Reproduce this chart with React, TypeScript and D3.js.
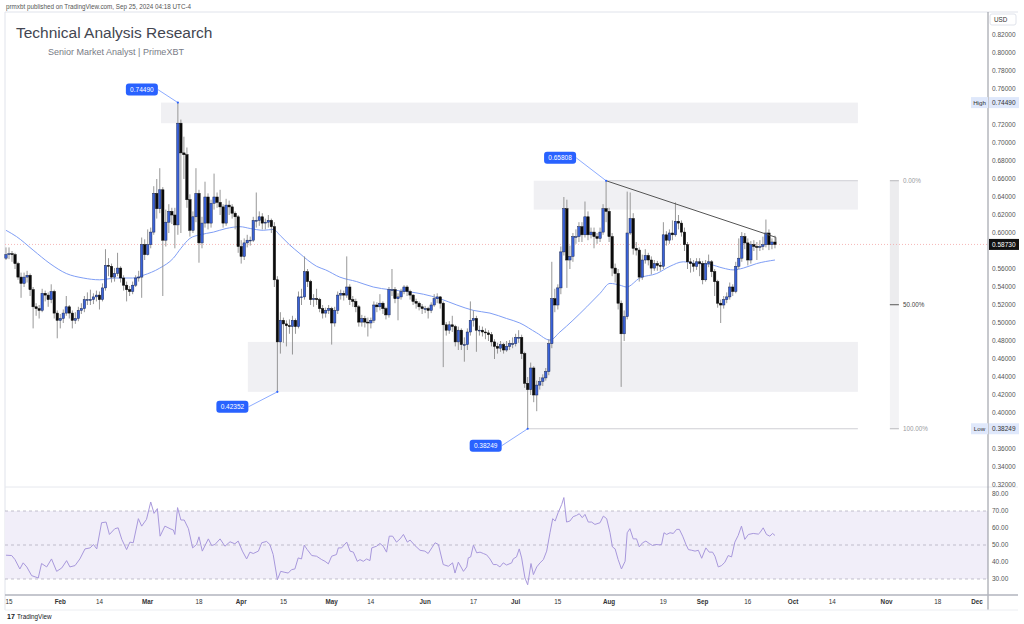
import React from "react";
import * as d3 from "d3";

const DAY = 86400000;
const START = Date.UTC(2024, 0, 14);
const firstOpen = 0.572;

const closes = [
0.576,0.577,0.576,0.566,0.551,0.544,0.551,0.553,0.537,0.518,
0.516,0.514,0.533,0.531,0.526,0.535,0.511,0.503,0.505,0.511,
0.518,0.511,0.503,0.505,0.514,0.516,0.526,0.526,0.526,0.529,
0.531,0.526,0.539,0.564,0.563,0.551,0.555,0.561,0.550,0.542,
0.537,0.535,0.542,0.550,0.551,0.587,0.576,0.587,0.601,0.644,
0.627,0.648,0.592,0.612,0.624,0.620,0.609,0.722,0.689,0.687,
0.637,0.603,0.618,0.644,0.589,0.611,0.640,0.611,0.633,0.640,
0.634,0.629,0.611,0.631,0.629,0.622,0.618,0.585,0.574,0.589,
0.592,0.592,0.614,0.614,0.618,0.611,0.612,0.614,0.607,0.548,
0.479,0.503,0.499,0.497,0.496,0.503,0.496,0.529,0.529,0.557,
0.546,0.526,0.527,0.526,0.516,0.511,0.514,0.516,0.500,0.514,
0.531,0.533,0.531,0.540,0.526,0.524,0.518,0.501,0.505,0.501,
0.500,0.503,0.520,0.518,0.522,0.516,0.509,0.537,0.537,0.527,
0.529,0.535,0.540,0.535,0.531,0.524,0.522,0.518,0.516,0.516,
0.514,0.520,0.527,0.529,0.522,0.498,0.492,0.498,0.496,0.479,
0.492,0.476,0.476,0.490,0.503,0.505,0.492,0.492,0.490,0.489,
0.487,0.479,0.474,0.472,0.476,0.470,0.474,0.477,0.477,0.484,
0.484,0.466,0.433,0.426,0.450,0.420,0.431,0.435,0.439,0.446,
0.477,0.527,0.520,0.539,0.579,0.627,0.570,0.574,0.596,0.596,
0.607,0.598,0.618,0.598,0.601,0.596,0.594,0.601,0.627,0.624,
0.596,0.561,0.555,0.522,0.488,0.507,0.600,0.616,0.583,0.581,
0.551,0.570,0.575,0.570,0.561,0.566,0.564,0.563,0.598,0.592,
0.600,0.598,0.613,0.611,0.601,0.587,0.568,0.566,0.563,0.568,
0.566,0.548,0.566,0.568,0.557,0.546,0.522,0.520,0.526,0.529,
0.540,0.535,0.563,0.572,0.596,0.589,0.570,0.587,0.585,0.584,
0.585,0.587,0.600,0.587,0.590,0.5873];

const highs = [
0.584,0.584,0.580,0.578,0.568,0.556,0.556,0.558,0.555,0.540,
0.522,0.520,0.538,0.536,0.534,0.543,0.537,0.514,0.510,0.515,
0.530,0.520,0.514,0.512,0.518,0.522,0.530,0.534,0.537,0.533,
0.536,0.535,0.544,0.582,0.572,0.566,0.561,0.578,0.563,0.553,
0.546,0.541,0.546,0.553,0.558,0.595,0.593,0.604,0.606,0.652,
0.660,0.672,0.651,0.626,0.632,0.628,0.628,0.7449,0.726,0.707,
0.695,0.643,0.624,0.672,0.648,0.618,0.657,0.644,0.637,0.666,
0.645,0.648,0.632,0.638,0.636,0.632,0.624,0.620,0.592,0.594,
0.598,0.596,0.618,0.645,0.624,0.622,0.616,0.620,0.616,0.612,
0.552,0.512,0.506,0.503,0.504,0.508,0.505,0.535,0.538,0.574,
0.560,0.548,0.532,0.538,0.528,0.520,0.517,0.520,0.518,0.518,
0.535,0.537,0.536,0.574,0.543,0.530,0.527,0.520,0.509,0.508,
0.506,0.506,0.524,0.523,0.532,0.524,0.518,0.540,0.560,0.540,
0.533,0.538,0.542,0.542,0.537,0.532,0.527,0.524,0.521,0.519,
0.518,0.523,0.532,0.533,0.530,0.524,0.501,0.502,0.508,0.498,
0.496,0.494,0.484,0.494,0.524,0.514,0.508,0.497,0.496,0.494,
0.492,0.490,0.482,0.478,0.480,0.478,0.480,0.481,0.484,0.488,
0.492,0.487,0.468,0.440,0.456,0.452,0.436,0.440,0.443,0.450,
0.482,0.568,0.538,0.543,0.585,0.640,0.637,0.586,0.600,0.604,
0.612,0.612,0.635,0.624,0.606,0.606,0.600,0.606,0.632,0.658,
0.628,0.600,0.566,0.560,0.525,0.514,0.646,0.645,0.622,0.590,
0.584,0.576,0.582,0.578,0.574,0.570,0.569,0.568,0.612,0.602,
0.604,0.614,0.634,0.620,0.614,0.606,0.590,0.572,0.570,0.572,
0.572,0.569,0.570,0.576,0.570,0.560,0.548,0.526,0.530,0.534,
0.545,0.543,0.568,0.594,0.601,0.600,0.594,0.591,0.592,0.590,
0.592,0.596,0.615,0.604,0.594,0.597];

const lows = [
0.570,0.571,0.568,0.560,0.548,0.528,0.540,0.545,0.530,0.494,
0.508,0.505,0.512,0.524,0.518,0.522,0.505,0.483,0.494,0.500,
0.508,0.505,0.494,0.499,0.502,0.510,0.512,0.520,0.520,0.521,
0.524,0.515,0.524,0.536,0.552,0.545,0.546,0.552,0.545,0.536,
0.524,0.530,0.532,0.540,0.546,0.528,0.570,0.575,0.583,0.598,
0.616,0.622,0.530,0.585,0.600,0.610,0.583,0.598,0.600,0.660,
0.628,0.596,0.600,0.612,0.567,0.583,0.606,0.604,0.606,0.626,
0.628,0.620,0.606,0.608,0.620,0.616,0.604,0.578,0.566,0.570,
0.584,0.586,0.590,0.606,0.608,0.604,0.604,0.606,0.600,0.540,
0.4235,0.466,0.478,0.474,0.488,0.465,0.488,0.494,0.520,0.526,
0.540,0.520,0.518,0.520,0.512,0.505,0.506,0.510,0.476,0.496,
0.510,0.526,0.525,0.528,0.520,0.518,0.512,0.496,0.496,0.495,
0.485,0.494,0.500,0.512,0.514,0.510,0.504,0.506,0.530,0.522,
0.503,0.526,0.532,0.530,0.526,0.520,0.516,0.514,0.510,0.511,
0.505,0.511,0.518,0.522,0.516,0.451,0.486,0.488,0.490,0.474,
0.470,0.470,0.457,0.470,0.486,0.496,0.468,0.486,0.485,0.482,
0.480,0.474,0.460,0.466,0.468,0.466,0.468,0.470,0.472,0.474,
0.478,0.460,0.428,0.3825,0.420,0.412,0.402,0.426,0.430,0.436,
0.442,0.472,0.512,0.515,0.532,0.575,0.539,0.560,0.568,0.588,
0.590,0.590,0.595,0.592,0.594,0.583,0.588,0.590,0.598,0.612,
0.590,0.552,0.545,0.515,0.429,0.480,0.504,0.598,0.576,0.575,
0.546,0.548,0.566,0.564,0.554,0.558,0.558,0.558,0.560,0.586,
0.588,0.592,0.596,0.604,0.596,0.580,0.560,0.556,0.557,0.559,
0.552,0.543,0.546,0.562,0.551,0.530,0.517,0.500,0.516,0.522,
0.526,0.530,0.533,0.560,0.568,0.582,0.564,0.566,0.580,0.570,
0.580,0.581,0.584,0.581,0.582,0.583];

const maDays = [0,3.5,9,14.6,20,25.6,31,36.7,42,45.5,51,55.5,58,61,64.3,68.8,73,77.6,81,85.3,88.6,91,94,97.5,100,103,106,110.7,116.3,121.8,127.3,132.9,138.4,143.9,149.5,155,160.5,166,170.4,176,180.4,183.7,188,192.6,197,200.3,203.6,205.8,210.2,215.8,220.2,224.6,229,233.4,237.8,241.1,244.5,248.9,255];
const maVals = [0.603,0.596,0.581,0.566,0.555,0.550,0.548,0.550,0.550,0.553,0.561,0.572,0.583,0.594,0.598,0.601,0.605,0.607,0.605,0.603,0.604,0.597,0.587,0.577,0.570,0.563,0.559,0.551,0.546,0.540,0.537,0.535,0.532,0.527,0.520,0.514,0.511,0.505,0.500,0.489,0.481,0.490,0.503,0.518,0.533,0.544,0.542,0.540,0.550,0.555,0.563,0.568,0.566,0.565,0.561,0.559,0.561,0.566,0.570];

const rsiDays = [0,1.9,3,4.6,5.7,6.9,8.5,10.7,11.8,13.5,15.1,16.8,18.5,20.1,21.2,22.9,24.5,26.2,27.9,29,30.1,31.7,33.2,34.3,36.1,37.2,38.4,40,41.1,42.2,43.9,45,46.6,48,49.1,50.2,51.1,52.7,54.4,55.5,56,56.9,58,59.1,60.5,61.9,63.2,64,65.1,67.1,68.2,69.3,71,72.6,74.3,75.9,77,78.4,79.8,80.9,82,83.7,84.8,86.4,87.5,88.6,90,91.1,92.5,93.6,94.7,95.8,96.9,98,98.9,99.9,101.4,103,104.7,105.8,106.9,108,109.6,110.2,111.3,113,114.1,115.2,116.5,117.4,118.5,119.6,120.7,121.3,122.9,124,125.1,126.2,127.1,128.2,129.5,130.7,131.8,133.1,134,135.6,137.3,138.9,140,141.2,142.3,143.4,145,146.7,148.1,148.9,150,151.7,152.8,153.3,154.1,155,156.1,157.2,158.3,159.4,160.5,161.6,162.7,163.8,164.9,166,167.7,168.2,169.3,170.2,171,172.1,173,174.1,174.9,176,177.1,178.2,179.3,180.4,181.3,182.1,183.1,184.3,185,185.9,187,188.1,189.2,190.1,191.1,192,193.1,194.2,195.3,197,198.1,199.2,200.3,201.1,202,203,204.1,205.3,206,206.9,208,209.1,210,211.1,212.2,213.3,214.4,215.5,216.6,217.4,218.2,219.1,220.2,221.3,222.4,223.3,224.4,225.5,226.3,227.4,228.5,229.6,230.7,232.1,233.2,234.3,235.1,236.2,237.3,238.4,239.5,240.6,241.7,242.8,243.9,245,246.2,247.8,249.5,250,251.1,252.2,253.3,254.2,255];
const rsiVals = [44.0,43.8,41.4,35.9,39.5,37.1,32.0,30.6,39.1,37.1,41.8,34.5,36.5,40.8,37.1,37.9,41.8,47.7,48.3,50.3,47.7,63.1,63.5,56.2,59.6,60.1,53.3,47.3,51.7,51.3,65.5,61.1,65.1,75.3,68.6,71.4,55.2,61.1,59.6,58.8,56.2,72.0,64.7,64.7,59.6,48.3,50.3,54.8,46.4,53.6,49.7,50.3,53.6,49.3,51.9,50.7,52.3,46.4,41.8,45.8,45.0,46.4,51.3,52.1,50.3,44.4,29.6,34.5,33.9,33.5,35.5,35.9,42.4,41.8,49.9,47.3,43.8,43.4,41.4,40.4,38.9,43.4,44.4,48.3,48.3,51.7,46.4,45.8,40.4,41.4,40.4,41.8,40.8,48.3,49.3,50.9,49.3,45.8,55.2,55.2,51.7,53.6,56.2,51.7,52.9,49.7,46.9,46.4,45.0,48.3,51.3,50.3,38.5,37.5,39.5,33.5,39.9,34.5,37.1,42.4,43.0,49.9,45.4,45.8,45.0,44.2,41.8,38.5,38.5,37.1,39.5,38.2,39.5,41.8,43.0,47.7,42.4,30.6,26.6,39.1,32.6,37.1,39.5,41.4,46.4,57.2,65.5,64.1,69.0,73.9,77.9,63.5,64.1,66.7,67.4,68.4,66.1,68.0,63.5,63.5,62.1,63.1,67.0,65.5,57.2,48.9,47.7,41.4,35.9,40.4,57.2,59.6,53.6,53.6,48.9,51.3,52.3,50.9,49.7,50.3,50.1,50.3,57.2,56.2,57.2,56.8,59.2,59.2,55.2,50.3,47.3,46.9,46.4,46.9,42.2,48.3,45.8,45.8,43.4,37.1,37.9,39.9,43.8,43.0,51.7,55.6,61.1,53.3,56.2,56.8,56.4,57.2,60.1,56.2,55.2,56.8,55.6];

const priceTicks = [0.82,0.80,0.78,0.76,0.74,0.72,0.70,0.68,0.66,0.64,0.62,0.60,0.58,0.56,0.54,0.52,0.50,0.48,0.46,0.44,0.42,0.40,0.38,0.36,0.34,0.32];
const rsiTicks = [80,70,60,50,40,30];
const rsiLevels = [70,50,30];
const xTickDates = ["2024-01-15","2024-02-01","2024-02-14","2024-03-01","2024-03-18","2024-04-01","2024-04-15","2024-05-01","2024-05-14","2024-06-01","2024-06-17","2024-07-01","2024-07-15","2024-08-01","2024-08-19","2024-09-01","2024-09-16","2024-10-01","2024-10-14","2024-11-01","2024-11-18","2024-12-01"];
const xTickLabels = ["15","Feb","14","Mar","18","Apr","15","May","14","Jun","17","Jul","15","Aug","19","Sep","16","Oct","14","Nov","18","Dec"];

const zoneStartDay = [51.4, 175, 80.2];
const zoneEndDay = [282.5, 282.5, 282.5];
const zoneTop = [0.7449, 0.65808, 0.479];
const zoneBottom = [0.722, 0.626, 0.42352];

const levelLineDays = [[199, 282.5], [173, 282.5]];
const levelLinePrices = [0.65808, 0.38249];

const swingDays = [57, 199, 90, 173];
const swingPrices = [0.7449, 0.65808, 0.42352, 0.38249];
const swingLabels = ["0.74490", "0.65808", "0.42352", "0.38249"];

const trendDays = [199, 255.3, 255.3];
const trendPrices = [0.65808, 0.5952, 0.590];

const fibDays = [293.1, 296.1];
const fibHigh = 0.65808;
const fibLow = 0.38249;
const fibLevels = [0, 0.5, 1];
const fibLabels = ["0.00%", "50.00%", "100.00%"];

const highPrice = 0.7449;
const lowPrice = 0.38249;
const lastPrice = 0.5873;

// layout (not data)
const calloutOffsets = [[-36, -13], [-46, -23], [-45, 15], [-42, 17]];
const FONT = "'Liberation Sans', Arial, Helvetica, sans-serif";
const PL = 5, PR = 988, AXR = 1018, TOP = 12, SEP = 487, XAX = 595;

export default function App() {
  const x = d3.scaleUtc().domain([Date.UTC(2024, 0, 15), Date.UTC(2024, 11, 1)]).range([9, 977]);
  const y = d3.scaleLinear().domain([0.32, 0.82]).range([485, 35]);
  const yr = d3.scaleLinear().domain([30, 80]).range([579, 494]);
  const dx = (d: number) => x(new Date(START + d * DAY));

  const maLine = d3.line<number>().x((_, i) => dx(maDays[i])).y((v) => y(v)).curve(d3.curveMonotoneX)(maVals) || "";
  const rsiLine = d3.line<number>().x((_, i) => dx(rsiDays[i])).y((v) => yr(v))(rsiVals) || "";

  const candles = closes.map((c, i) => {
    const o = i === 0 ? firstOpen : closes[i - 1];
    const up = c >= o;
    const cx = dx(i);
    const top = y(Math.max(o, c));
    const h = Math.max(0.8, Math.abs(y(o) - y(c)));
    return (
      <g key={i}>
        <line x1={cx} x2={cx} y1={y(highs[i])} y2={y(lows[i])} stroke="#8c8c8c" strokeWidth={0.9} />
        <rect x={cx - 1.2} y={top} width={2.4} height={h} fill={up ? "#3a62d9" : "#0b0b0b"} stroke={up ? "#1c2a55" : "#0b0b0b"} strokeWidth={0.5} />
      </g>
    );
  });

  const fibY = (l: number) => y(fibHigh - (fibHigh - fibLow) * l);
  const badgePrices = [highPrice, lowPrice, lastPrice];
  const visibleTicks = priceTicks.filter((p) => badgePrices.every((b) => Math.abs(y(p) - y(b)) > 8));

  return (
    <svg width={1024} height={624} style={{ position: "absolute", left: 0, top: 0, display: "block", background: "#fff" }} fontFamily={FONT}>
      <rect width={1024} height={624} fill="#fff" />
      <text x={6} y={9} fontSize={6.3} fill="#555">prmxbt published on TradingView.com, Sep 25, 2024 04:18 UTC-4</text>

      {/* frame */}
      <line x1={PL} x2={AXR} y1={TOP} y2={TOP} stroke="#e0e3eb" />
      <line x1={PL} x2={PL} y1={TOP} y2={610} stroke="#e0e3eb" />
      <line x1={PL} x2={AXR} y1={SEP} y2={SEP} stroke="#e6e8ee" />

      {/* zones */}
      {zoneTop.map((t, i) => (
        <rect key={i} x={dx(zoneStartDay[i])} y={y(t)} width={dx(zoneEndDay[i]) - dx(zoneStartDay[i])} height={y(zoneBottom[i]) - y(t)} fill="#f0f0f3" />
      ))}
      {levelLinePrices.map((p, i) => (
        <line key={i} x1={dx(levelLineDays[i][0])} x2={dx(levelLineDays[i][1])} y1={y(p)} y2={y(p)} stroke="#cfcfd4" strokeWidth={1} />
      ))}

      {/* fib */}
      <rect x={dx(fibDays[0])} width={dx(fibDays[1]) - dx(fibDays[0])} y={fibY(0)} height={fibY(0.5) - fibY(0)} fill="#ececee" />
      <rect x={dx(fibDays[0])} width={dx(fibDays[1]) - dx(fibDays[0])} y={fibY(0.5)} height={fibY(1) - fibY(0.5)} fill="#f3f3f5" />
      {fibLevels.map((l, i) => (
        <g key={i}>
          <line x1={dx(fibDays[0])} x2={dx(fibDays[1])} y1={fibY(l)} y2={fibY(l)} stroke={l === 0.5 ? "#555" : "#b8b8bc"} strokeWidth={1} />
          <text x={dx(fibDays[1]) + 4} y={fibY(l) + 2.3} fontSize={6.3} fill={l === 0.5 ? "#444" : "#9a9aa0"}>{fibLabels[i]}</text>
        </g>
      ))}

      {/* last price line */}
      <line x1={PL} x2={PR} y1={y(lastPrice)} y2={y(lastPrice)} stroke="#f2a3a3" strokeWidth={0.8} strokeDasharray="1,2" />

      {/* MA */}
      <path d={maLine} fill="none" stroke="#7f9ef5" strokeWidth={1} />

      {/* candles */}
      {candles}

      {/* trendline */}
      <polyline points={trendDays.map((d, i) => `${dx(d)},${y(trendPrices[i])}`).join(" ")} fill="none" stroke="#555" strokeWidth={1} />

      {/* callouts */}
      {swingDays.map((d, i) => {
        const px = dx(d), py = y(swingPrices[i]);
        const lx = px + calloutOffsets[i][0], ly = py + calloutOffsets[i][1];
        const edge = lx + 16;
        return (
          <g key={i}>
            <line x1={edge} y1={ly} x2={px} y2={py} stroke="#6f95ff" strokeWidth={0.8} />
            <circle cx={px} cy={py} r={1.1} fill="#2962ff" />
            <rect x={lx - 16} y={ly - 6} width={32} height={12} rx={3} fill="#2962ff" />
            <text x={lx} y={ly + 2.3} fontSize={6.5} fill="#fff" textAnchor="middle">{swingLabels[i]}</text>
          </g>
        );
      })}

      {/* RSI */}
      <rect x={PL} y={yr(70)} width={PR - PL} height={yr(30) - yr(70)} fill="#f1eef9" />
      {rsiLevels.map((l) => (
        <line key={l} x1={PL} x2={PR} y1={yr(l)} y2={yr(l)} stroke="#aaa6b8" strokeWidth={0.7} strokeDasharray="3,3" />
      ))}
      <path d={rsiLine} fill="none" stroke="#a898dc" strokeWidth={1} />

      {/* title */}
      <text x={16} y={38} fontSize={15.5} fill="#434651">Technical Analysis Research</text>
      <text x={48} y={55} fontSize={9} fill="#787b86">Senior Market Analyst | PrimeXBT</text>

      {/* right axis */}
      <line x1={PR} x2={PR} y1={TOP} y2={610} stroke="#8f929b" strokeWidth={1} />
      <rect x={990} y={14} width={26} height={11} rx={2} fill="#fff" stroke="#e0e3eb" />
      <text x={994} y={22} fontSize={6.3} fill="#333">USD</text>
      {visibleTicks.map((p) => (
        <text key={p} x={992} y={y(p) + 2.3} fontSize={6.5} fill="#555">{p.toFixed(5)}</text>
      ))}
      {rsiTicks.map((r) => (
        <text key={r} x={992} y={yr(r) + 2.3} fontSize={6.5} fill="#555">{r.toFixed(2)}</text>
      ))}
      {[{ p: highPrice, t: "High" }, { p: lowPrice, t: "Low" }].map((o) => (
        <g key={o.t}>
          <rect x={989} y={y(o.p) - 5.5} width={30} height={11} fill="#dfe8fb" />
          <text x={992} y={y(o.p) + 2.3} fontSize={6.5} fill="#333">{o.p.toFixed(5)}</text>
          <rect x={971} y={y(o.p) - 5.5} width={17} height={11} fill="#dfe8fb" />
          <text x={979.5} y={y(o.p) + 2.3} fontSize={6.2} fill="#333" textAnchor="middle">{o.t}</text>
        </g>
      ))}
      <rect x={989} y={y(lastPrice) - 5.5} width={30} height={11} fill="#111" />
      <text x={992} y={y(lastPrice) + 2.3} fontSize={6.5} fill="#fff">{lastPrice.toFixed(5)}</text>

      {/* x axis */}
      <line x1={PL} x2={AXR} y1={XAX} y2={XAX} stroke="#b2b5be" strokeWidth={1.5} />
      <line x1={PL} x2={AXR} y1={610} y2={610} stroke="#eceef2" />
      {xTickDates.map((d, i) => {
        const isMonth = isNaN(Number(xTickLabels[i]));
        return (
          <text key={d} x={x(new Date(d + "T00:00:00Z"))} y={604} fontSize={6.3} textAnchor="middle" fill="#333" fontWeight={isMonth ? 700 : 400}>{xTickLabels[i]}</text>
        );
      })}

      {/* footer */}
      <text x={7} y={619} fontSize={7} fontWeight={700} fill="#131722">17</text>
      <text x={17} y={619} fontSize={6.3} fill="#131722">TradingView</text>
    </svg>
  );
}
